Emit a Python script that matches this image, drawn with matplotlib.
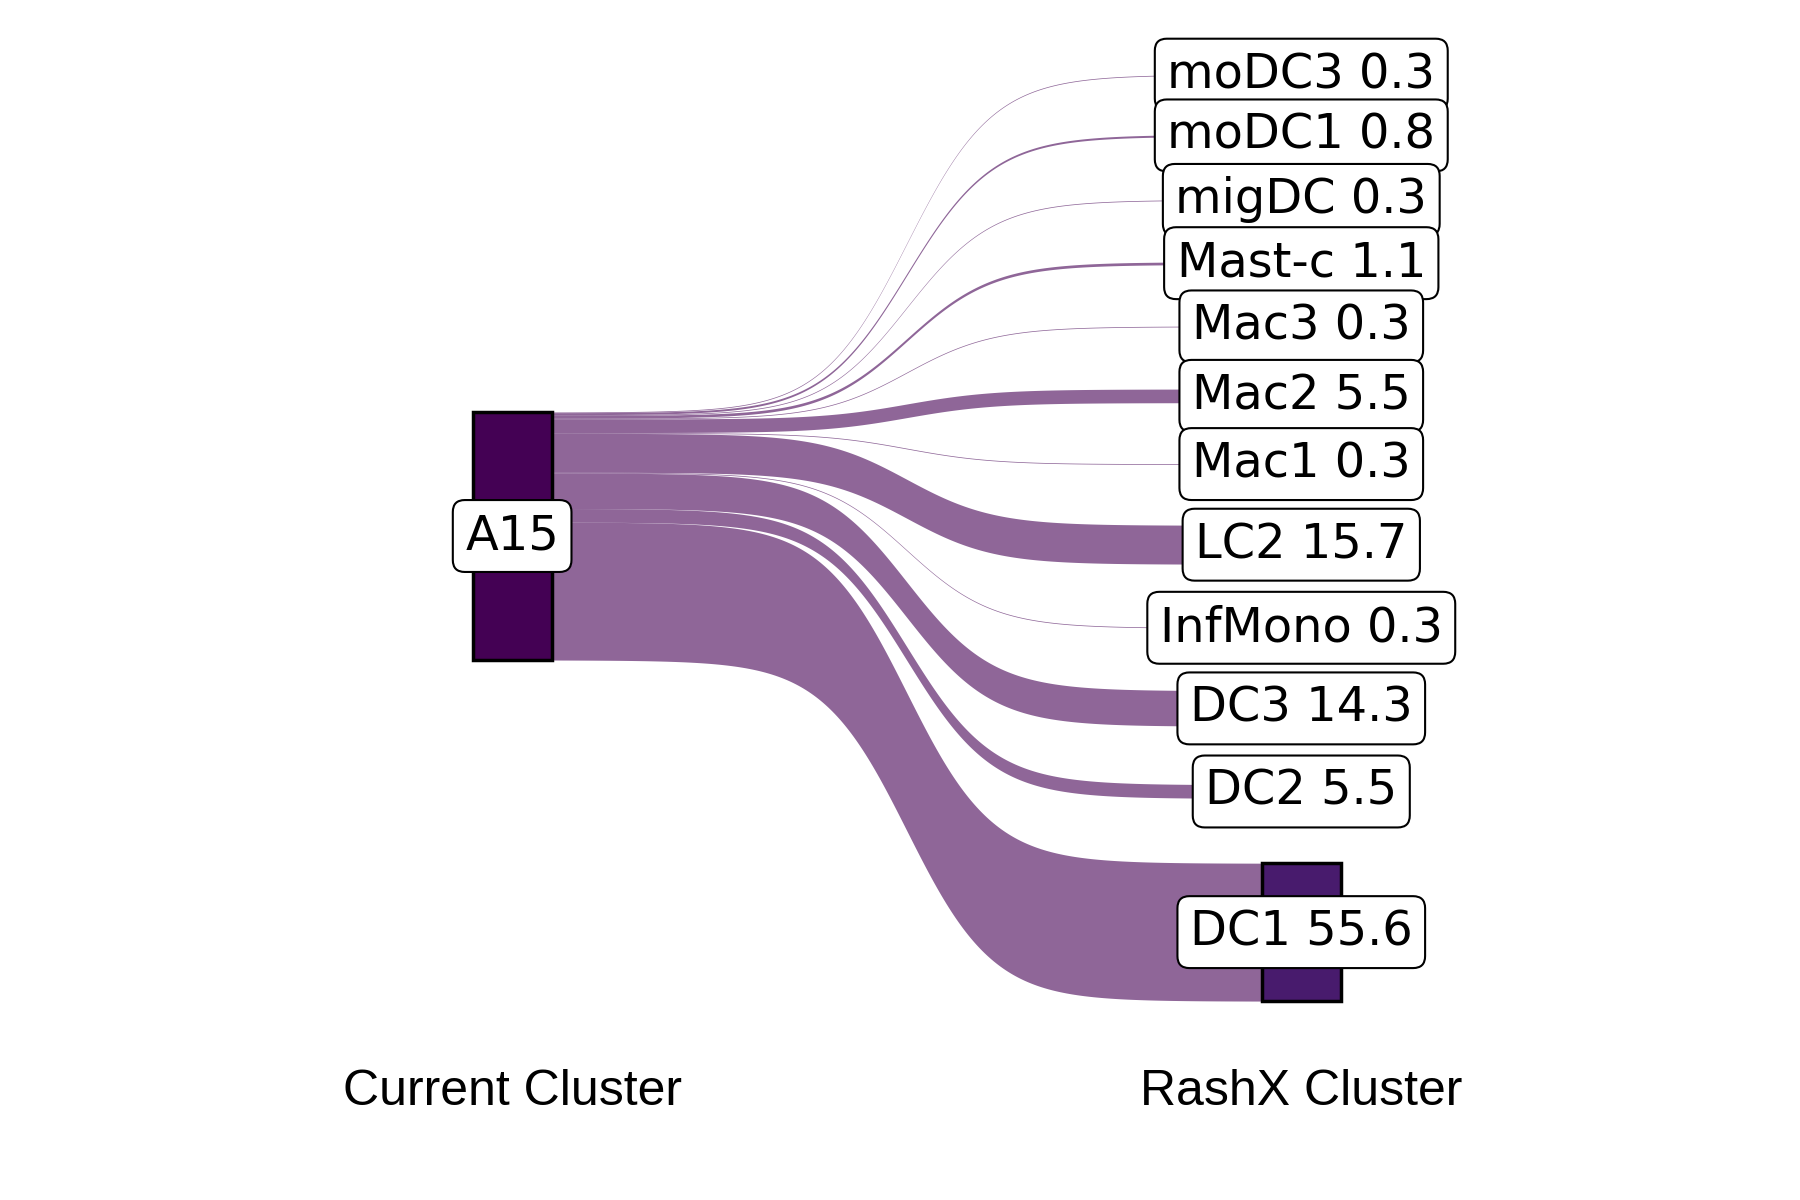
import matplotlib
matplotlib.use("Agg")
import matplotlib.pyplot as plt
import numpy as np

# data: share of cluster A15 mapped onto RashX clusters (top to bottom)
source = "A15"
targets = ["moDC3", "moDC1", "migDC", "Mast-c", "Mac3", "Mac2",
           "Mac1", "LC2", "InfMono", "DC3", "DC2", "DC1"]
values = [0.3, 0.8, 0.3, 1.1, 0.3, 5.5, 0.3, 15.7, 0.3, 14.3, 5.5, 55.6]
# centre of each RashX stratum on the value axis
target_centres = [236, 211.5, 185.5, 160, 134.5, 106.5, 79, 46.5, 13, -19.5, -53, -109.7]
axis_labels = ["Current Cluster", "RashX Cluster"]

flow_col = "#440154"
src_col = "#440154"
tgt_col = "#481b6d"

hw = 0.05  # half width of a stratum box


def sigmoid(t, k=16.5):
    s = 1 / (1 + np.exp(-k * (t - 0.5)))
    lo, hi = 1 / (1 + np.exp(k * 0.5)), 1 / (1 + np.exp(-k * 0.5))
    return (s - lo) / (hi - lo)


fig = plt.figure(figsize=(18, 12), dpi=100)
ax = fig.add_axes([0, 0, 1, 1])
ax.set_xlim(0.351, 2.632)
ax.set_ylim(-217.7, 266.1)
ax.axis("off")

# flows
t = np.linspace(0, 1, 300)
x = 1 + hw + t * (1 - 2 * hw)
s = sigmoid(t)
top = 100.0
for name, v, c in zip(targets, values, target_centres):
    l_top, l_bot = top, top - v
    r_top, r_bot = c + v / 2, c - v / 2
    y_top = l_top + (r_top - l_top) * s
    y_bot = l_bot + (r_bot - l_bot) * s
    ax.fill_between(x, y_bot, y_top, color=flow_col, alpha=0.6, lw=0)
    top -= v

# strata
ax.add_patch(plt.Rectangle((1 - hw, 0), 2 * hw, 100, facecolor=src_col,
                           edgecolor="black", lw=2.5, zorder=3))
for name, v, c in zip(targets, values, target_centres):
    ax.add_patch(plt.Rectangle((2 - hw, c - v / 2), 2 * hw, v,
                               facecolor=tgt_col, edgecolor="black",
                               lw=2.5, zorder=3))

# labels
box = dict(boxstyle="round,pad=0.26,rounding_size=0.25", fc="white", ec="black", lw=1.5)
ax.text(1, 50, source, ha="center", va="center", fontsize=34.5,
        bbox=box, zorder=4)
for name, v, c in zip(targets, values, target_centres):
    ax.text(2, c, f"{name} {v}", ha="center", va="center", fontsize=34.5,
            bbox=box, zorder=4)

for i, lab in enumerate(axis_labels):
    ax.text(1 + i, -174, lab, ha="center", va="center", fontsize=36,
            family="Liberation Sans")

fig.savefig("out.png", dpi=100)
